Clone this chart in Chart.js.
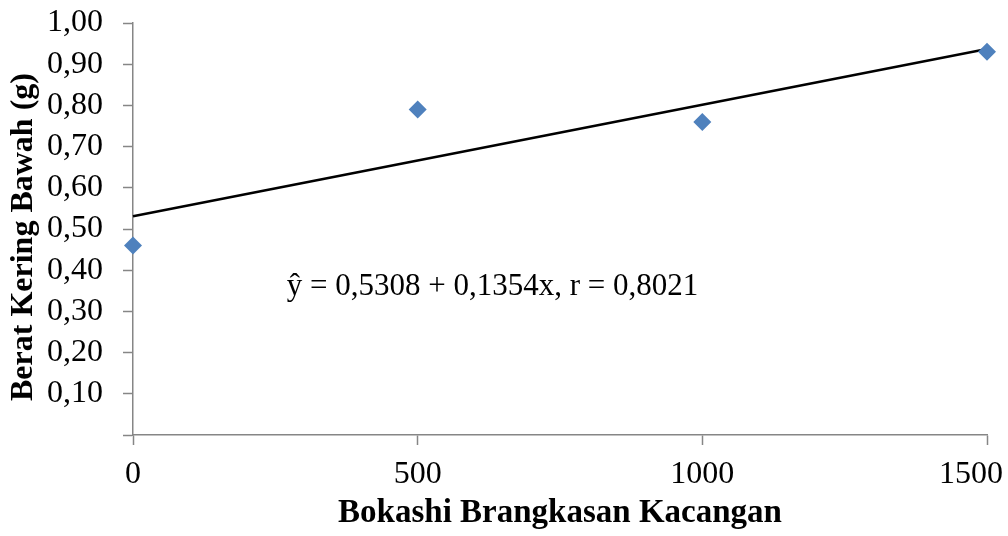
<!DOCTYPE html>
<html>
<head>
<meta charset="utf-8">
<script src="https://cdn.jsdelivr.net/npm/chart.js@4.4.0/dist/chart.umd.min.js"></script>
<style>
  html, body { margin: 0; padding: 0; background: #ffffff; }
  #wrap { width: 1008px; height: 536px; position: relative; }
</style>
</head>
<body>
<div id="wrap"><canvas id="c" width="1008" height="536"></canvas></div>
<script>
// ---- data ----
const doses = [0, 500, 1000, 1500];                 // Bokashi Brangkasan Kacangan
const dryWeight = [0.46, 0.79, 0.76, 0.93];         // Berat Kering Bawah (g)
const trendX = [0, 1500];
const trendY = [0.5308, 0.9370];                    // ŷ = 0,5308 + 0,1354x
const equationText = 'ŷ = 0,5308 + 0,1354x, r = 0,8021';
const equationPos = [270, 0.34];
const xTitle = 'Bokashi Brangkasan Kacangan';
const yTitle = 'Berat Kering Bawah (g)';

const FONT = '"Liberation Serif", "Times New Roman", serif';
const AXIS = '#868686';

const equationPlugin = {
  id: 'equation',
  afterDatasetsDraw(chart) {
    const { ctx, scales } = chart;
    const x = scales.x.getPixelForValue(equationPos[0]);
    const y = scales.y.getPixelForValue(equationPos[1]);
    ctx.save();
    ctx.font = '31px ' + FONT;
    ctx.fillStyle = '#000';
    ctx.textAlign = 'left';
    ctx.textBaseline = 'alphabetic';
    ctx.fillText(equationText, x, y);
    ctx.restore();
  }
};

new Chart(document.getElementById('c'), {
  type: 'scatter',
  data: {
    datasets: [
      {
        label: 'Trend',
        type: 'line',
        data: trendX.map((x, i) => ({ x: x, y: trendY[i] })),
        borderColor: '#000000',
        borderWidth: 2.5,
        pointRadius: 0,
        fill: false,
        clip: false,
        order: 2
      },
      {
        label: 'Data',
        data: doses.map((x, i) => ({ x: x, y: dryWeight[i] })),
        pointStyle: 'rectRot',
        pointRadius: 9,
        pointHoverRadius: 9,
        backgroundColor: '#4f81bd',
        borderColor: '#4f81bd',
        borderWidth: 0,
        clip: false,
        order: 1
      }
    ]
  },
  options: {
    responsive: false,
    animation: false,
    layout: { padding: { top: 23, right: 21, left: 0, bottom: 0 } },
    plugins: {
      legend: { display: false },
      tooltip: { enabled: false }
    },
    scales: {
      x: {
        type: 'linear',
        min: 0,
        max: 1500,
        afterFit(s) { s.height = 101; s.paddingLeft = 0; s.paddingRight = 0; },
        ticks: {
          stepSize: 500,
          autoSkip: false,
          color: '#000',
          font: { family: FONT, size: 32 },
          padding: 10,
          maxRotation: 0,
          callback: (v) => (v === 1500 ? String(v) + '\u2003' : String(v))
        },
        grid: {
          display: true,
          drawOnChartArea: false,
          drawTicks: true,
          tickLength: 10,
          tickColor: AXIS,
          tickWidth: 1.5
        },
        border: { display: true, color: AXIS, width: 1.5 },
        title: {
          display: true,
          text: xTitle,
          color: '#000',
          font: { family: FONT, size: 33, weight: 'bold' },
          padding: { top: 0, bottom: 3 }
        }
      },
      y: {
        type: 'linear',
        min: 0,
        max: 1,
        afterFit(s) { s.width = 133; s.paddingTop = 0; s.paddingBottom = 0; },
        ticks: {
          stepSize: 0.1,
          autoSkip: false,
          color: '#000',
          font: { family: FONT, size: 32 },
          padding: 20,
          callback: (v) => (Math.abs(v) < 1e-9 ? '' : v.toFixed(2).replace('.', ','))
        },
        grid: {
          display: true,
          drawOnChartArea: false,
          drawTicks: true,
          tickLength: 10,
          tickColor: AXIS,
          tickWidth: 1.5
        },
        border: { display: true, color: AXIS, width: 1.5 },
        title: {
          display: true,
          text: yTitle + '\u2002',
          color: '#000',
          font: { family: FONT, size: 32, weight: 'bold' },
          padding: { top: 5, bottom: 0 }
        }
      }
    }
  },
  plugins: [equationPlugin]
});
</script>
</body>
</html>
